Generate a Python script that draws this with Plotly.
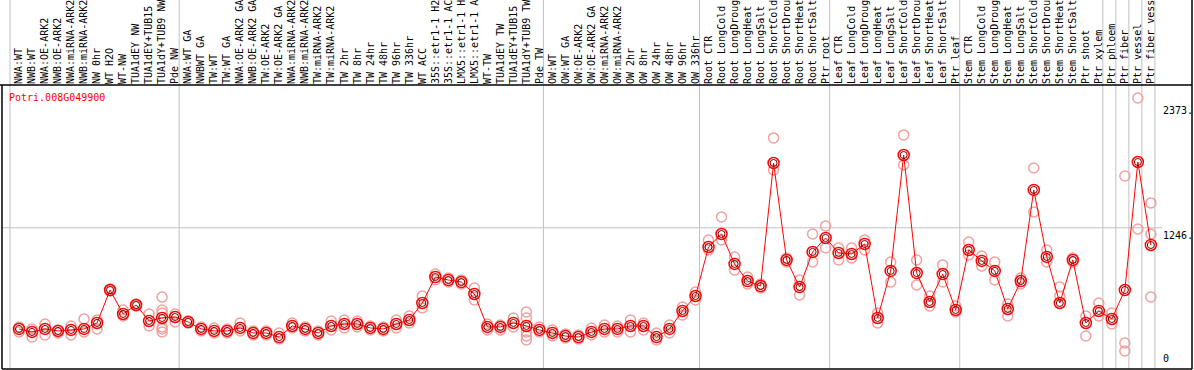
import plotly.graph_objects as go

gene = "Potri.008G049900"

categories = [
    "NWA:WT", "NWB:WT", "NWA:OE-ARK2", "NWB:OE-ARK2", "NWA:miRNA-ARK2", "NWB:miRNA-ARK2",
    "NW 0hr", "WT H2O", "WT-NW", "TUA1dEY NW", "TUA1dEY+TUB15", "TUA1dY+TUB9 NW", "Pde NW",
    "NWA:WT GA", "NWBWT GA", "TW:WT", "TW:WT GA", "NWA:OE-ARK2 GA", "NWB:OE-ARK2 GA",
    "TW:OE-ARK2", "TW:OE-ARK2 GA", "NWA:miRNA-ARK2", "NWB:miRNA-ARK2", "TW:miRNA-ARK2",
    "TW:miRNA-ARK2", "TW 2hr", "TW 8hr", "TW 24hr", "TW 48hr", "TW 96hr", "TW 336hr",
    "WT ACC", "35S::etr1-1 H2O", "35S::etr1-1 ACC", "LMX5::etr1-1 H2O", "LMX5::etr1-1 ACC",
    "WT-TW", "TUA1dEY TW", "TUA1dEY+TUB15", "TUA1dY+TUB9 TW", "Pde TW",
    "OW:WT", "OW:WT GA", "OW:OE-ARK2", "OW:OE-ARK2 GA", "OW:miRNA-ARK2", "OW:miRNA-ARK2",
    "OW 2hr", "OW 8hr", "OW 24hr", "OW 48hr", "OW 96hr", "OW 336hr",
    "Root CTR", "Root LongCold", "Root LongDrought", "Root LongHeat", "Root LongSalt",
    "Root ShortCold", "Root ShortDrought", "Root ShortHeat", "Root ShortSalt", "Ptr root",
    "Leaf CTR", "Leaf LongCold", "Leaf LongDrought", "Leaf LongHeat", "Leaf LongSalt",
    "Leaf ShortCold", "Leaf ShortDrought", "Leaf ShortHeat", "Leaf ShortSalt", "Ptr leaf",
    "Stem CTR", "Stem LongCold", "Stem LongDrought", "Stem LongHeat", "Stem LongSalt",
    "Stem ShortCold", "Stem ShortDrought", "Stem ShortHeat", "Stem ShortSalt",
    "Ptr shoot", "Ptr xylem", "Ptr phloem", "Ptr fiber", "Ptr vessel", "Ptr fiber vessel",
]

means = [
    334, 307, 334, 316, 325, 334, 388, 685, 469, 550, 406, 433, 442,
    397, 334, 316, 316, 343, 298, 298, 261, 361, 334, 298, 361, 379, 379, 343, 334, 379, 415,
    568, 802, 775, 757, 649, 352, 352, 388, 361, 325,
    298, 270, 261, 307, 334, 334, 361, 361, 261, 334, 496, 631,
    1073, 1190, 920, 766, 721, 1830, 956, 712, 1028, 1154,
    1019, 1010, 1100, 433, 857, 1902, 838, 577, 829, 505,
    1046, 947, 857, 514, 766, 1587, 983, 568, 956,
    388, 496, 424, 685, 1839, 1091,
]

replicates = [
    [352, 307], [334, 261], [379, 280], [325, 298], [361, 280], [424, 307], [415, 334],
    [694, 676], [505, 451], [559, 541], [469, 361], [622, 505, 478, 352, 334, 307], [469, 397],
    [406, 388], [352, 316], [343, 298], [334, 298], [388, 316], [316, 280], [316, 280],
    [298, 243], [388, 343], [352, 316], [316, 280], [406, 325], [415, 343], [406, 352],
    [361, 325], [352, 316], [415, 343], [451, 388], [631, 523], [829, 775], [793, 757],
    [775, 739], [703, 595], [379, 325], [370, 325], [433, 352], [487, 433, 307, 270, 234],
    [352, 307], [325, 270], [289, 252], [280, 243], [343, 280], [370, 307], [361, 307],
    [415, 307], [388, 325], [298, 234], [370, 298], [532, 460], [667, 595],
    [1136, 1046], [1343, 1136], [983, 866], [802, 739], [739, 703], [2056, 1767],
    [974, 938], [775, 640], [1190, 938], [1262, 1064],
    [1064, 956], [1064, 974], [1136, 1046], [478, 388], [938, 757], [2083, 1812],
    [956, 730], [631, 541], [911, 757], [541, 487],
    [1118, 1001], [992, 902], [938, 775], [559, 451], [793, 739], [1785, 1388],
    [1046, 938], [712, 631], [974, 938],
    [451, 270], [568, 451], [478, 379], [1713, 207, 135], [2416, 1235], [1470, 1190, 622],
]

group_bounds = [0, 13, 41, 53, 63, 73, 84, 85, 86, 87, 88]
y_ticks = [0, 1246, 2373]
y_tick_text = ["0", "1246.", "2373."]
hline_values = [1246]

W, H = 1194, 370
ML, MR, MT, MB = 2, 2, 85, 1
x0_px, cell_px = 10.0, 13.01
point_off = 9.0 / cell_px
xr = [(ML - x0_px) / cell_px, (W - MR - x0_px) / cell_px]
yr = [-27, 2533]
PW = W - ML - MR
PH = H - MT - MB

def xpaper(v):
    return (v - xr[0]) / (xr[1] - xr[0])

xs = [i + point_off for i in range(len(categories))]

rep_x, rep_y = [], []
for i, reps in enumerate(replicates):
    for r in reps:
        rep_x.append(xs[i])
        rep_y.append(r)

fig = go.Figure()
fig.add_trace(go.Scatter(
    x=rep_x, y=rep_y, mode="markers",
    marker=dict(symbol="circle-open", size=10, color="#f0a0a0", line=dict(width=1.5)),
    hoverinfo="skip", showlegend=False,
))
fig.add_trace(go.Scatter(
    x=xs, y=means, mode="lines+markers",
    line=dict(color="#ff0000", width=1),
    marker=dict(symbol="circle-open", size=11, color="#ff0000", line=dict(width=1.5)),
    showlegend=False,
))
fig.add_trace(go.Scatter(
    x=xs, y=means, mode="markers",
    marker=dict(symbol="circle-open", size=7, color="#700000", line=dict(width=1)),
    hoverinfo="skip", showlegend=False,
))

shapes = []
top_ext = 1 + MT / PH
for b in group_bounds:
    shapes.append(dict(type="line", xref="paper", yref="paper",
                       x0=xpaper(b), x1=xpaper(b), y0=0, y1=top_ext,
                       line=dict(color="#c0c0c0", width=1), layer="below"))
for hv in hline_values:
    shapes.append(dict(type="line", xref="paper", yref="y",
                       x0=0, x1=(1162 - ML) / PW, y0=hv, y1=hv,
                       line=dict(color="#c0c0c0", width=1), layer="below"))
# frame
shapes.append(dict(type="line", xref="paper", yref="paper", x0=-ML / PW, x1=1,
                   y0=1, y1=1, line=dict(color="black", width=1.5)))
shapes.append(dict(type="line", xref="paper", yref="paper", x0=0, x1=1,
                   y0=0, y1=0, line=dict(color="black", width=1.5)))
shapes.append(dict(type="line", xref="paper", yref="paper", x0=0, x1=0,
                   y0=0, y1=1, line=dict(color="black", width=1.5)))
shapes.append(dict(type="line", xref="paper", yref="paper", x0=1, x1=1,
                   y0=0, y1=top_ext, line=dict(color="black", width=1.5)))

annotations = [dict(
    text=gene, xref="paper", yref="paper", x=(7 - ML) / PW, y=1 - 5 / PH,
    xanchor="left", yanchor="top", showarrow=False,
    font=dict(family="DejaVu Sans Mono", size=10, color="#ff0000"),
)]
for k, (tv, tt) in enumerate(zip(y_ticks, y_tick_text)):
    annotations.append(dict(
        text=tt, xref="paper", yref="y", x=(1161 - ML) / PW, y=tv,
        xanchor="left", yanchor="bottom" if k == 0 else "top", showarrow=False,
        font=dict(family="DejaVu Sans Mono", size=10, color="black"),
    ))

fig.update_layout(
    width=W, height=H, autosize=False,
    margin=dict(l=ML, r=MR, t=MT, b=MB, pad=0),
    paper_bgcolor="white", plot_bgcolor="white",
    shapes=shapes, annotations=annotations,
    xaxis=dict(range=xr, side="top", tickmode="array", tickvals=xs, ticktext=categories,
               tickangle=-90, ticks="", showgrid=False, zeroline=False, showline=False,
               automargin=False,
               tickfont=dict(family="DejaVu Sans Mono", size=10, color="black")),
    yaxis=dict(range=yr, showticklabels=False, showgrid=False, zeroline=False,
               showline=False, ticks="", automargin=False),
)

fig.write_html("out.html", config={"displayModeBar": False},
               post_script="document.body.style.margin='0';document.body.style.overflow='hidden';")
